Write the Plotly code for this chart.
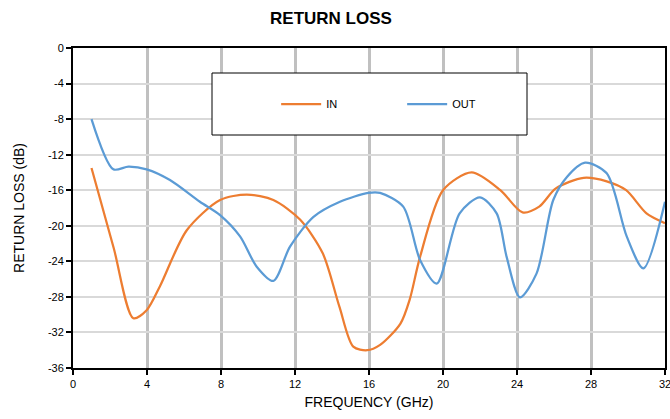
import plotly.graph_objects as go

freq_in = [1.0, 2.2, 3.26, 3.98, 4.7, 6.15, 7.95, 9.39, 10.83, 12.27, 13.5, 14.4, 15.15, 15.9, 16.6, 17.7, 18.2, 18.76, 20.0, 21.55, 23.1, 24.3, 25.2, 26.1, 27.6, 28.85, 29.9, 31.0, 32.0]
rl_in = [-13.5, -22.5, -30.4, -29.5, -26.8, -20.5, -17.1, -16.5, -17.1, -19.3, -23.1, -29.1, -33.6, -34.0, -33.4, -31.0, -28.3, -23.5, -16.0, -14.0, -16.0, -18.5, -17.85, -15.8, -14.6, -15.0, -16.0, -18.6, -19.7]

freq_out = [1.0, 2.18, 3.0, 3.98, 5.24, 6.86, 7.95, 9.03, 9.93, 10.83, 11.73, 13.0, 14.43, 15.96, 16.6, 17.85, 18.76, 19.66, 20.9, 22.0, 22.9, 23.44, 24.16, 25.06, 25.96, 26.7, 27.68, 28.85, 29.93, 30.83, 32.0]
rl_out = [-8.0, -13.65, -13.35, -13.65, -14.85, -17.3, -18.8, -21.2, -24.6, -26.2, -22.35, -19.0, -17.3, -16.3, -16.3, -17.85, -23.85, -26.5, -18.6, -16.8, -18.6, -23.5, -28.05, -25.35, -17.1, -14.5, -12.9, -14.1, -21.2, -24.8, -17.3]

x_ticks = [0, 4, 8, 12, 16, 20, 24, 28, 32]
y_ticks = [0, -4, -8, -12, -16, -20, -24, -28, -32, -36]

fig = go.Figure()
fig.add_trace(go.Scatter(x=freq_in, y=rl_in, name="IN", mode="lines",
                         line=dict(color="#ED7D31", width=2.25, shape="spline", smoothing=0.8)))
fig.add_trace(go.Scatter(x=freq_out, y=rl_out, name="OUT", mode="lines",
                         line=dict(color="#5B9BD5", width=2.25, shape="spline", smoothing=0.8)))

fig.update_layout(
    width=670, height=419,
    margin=dict(l=73, r=5, t=48, b=51, autoexpand=False),
    paper_bgcolor="white", plot_bgcolor="white",
    font=dict(family="Liberation Sans, Arial, sans-serif", color="black", size=11),
    title=dict(text="<b>RETURN LOSS</b>", x=0.494, xanchor="center", y=0.97, yanchor="top",
               font=dict(size=17, color="black")),
    showlegend=True,
    legend=dict(orientation="h", x=0.556, xanchor="center", y=0.825, yanchor="middle",
                bgcolor="rgba(0,0,0,0)", borderwidth=0, font=dict(size=11),
                entrywidth=71, itemwidth=40),
    shapes=[dict(type="rect", xref="paper", yref="paper",
                 x0=(212-73)/592, x1=(527-73)/592, y0=(368-135)/320, y1=(368-73)/320,
                 line=dict(color="black", width=1), fillcolor="white", layer="above")],
)
fig.update_xaxes(range=[0, 32], tickvals=x_ticks, ticktext=[str(v) for v in x_ticks],
                 automargin=False, ticklabeloverflow="allow",
                 showgrid=True, gridcolor="#C0C0C0", gridwidth=3,
                 showline=True, linecolor="black", linewidth=2, mirror=True,
                 ticks="outside", ticklen=5, tickcolor="black", tickwidth=1.5,
                 zeroline=False,
                 title=dict(text="FREQUENCY (GHz)", font=dict(size=14), standoff=8))
fig.update_yaxes(range=[-36, 0], tickvals=y_ticks, ticktext=[str(v) for v in y_ticks],
                 automargin=False,
                 showgrid=True, gridcolor="#D9D9D9", gridwidth=1.5,
                 showline=True, linecolor="black", linewidth=2, mirror=True,
                 ticks="outside", ticklen=5, tickcolor="black", tickwidth=1.5,
                 zeroline=False,
                 title=dict(text="RETURN LOSS (dB)", font=dict(size=14), standoff=20))

fig.write_html("out.html", config={"displayModeBar": False},
               post_script="document.body.style.margin='0';document.body.style.overflow='hidden';")
